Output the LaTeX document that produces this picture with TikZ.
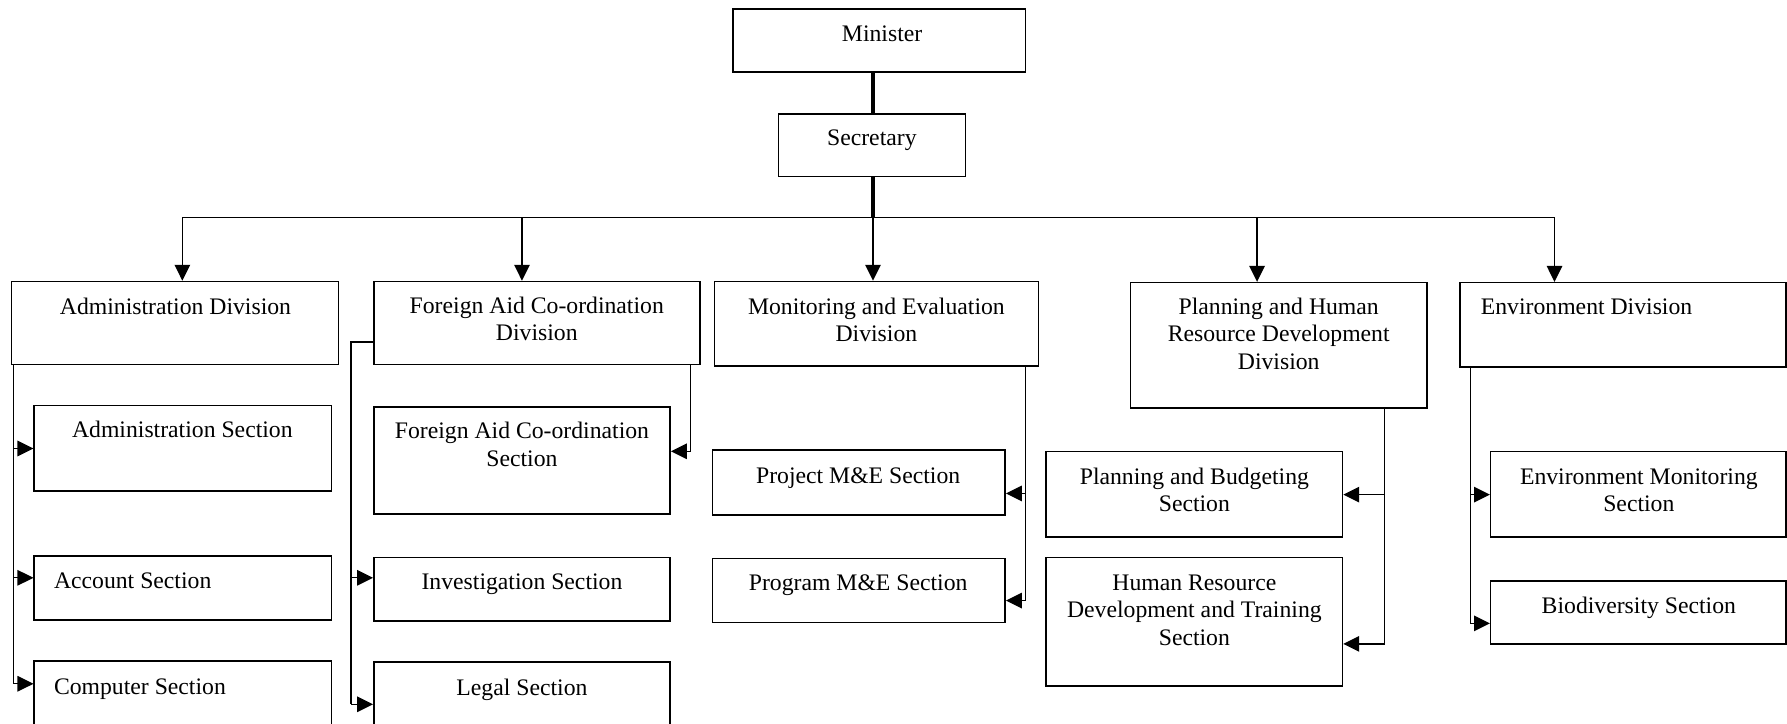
\documentclass[tikz,border=0pt]{standalone}
\usepackage{fontspec}
\setmainfont{Liberation Serif}
\usetikzlibrary{fit,arrows.meta}

\tikzset{
  box/.style={draw, line width=0.65pt, inner sep=0pt, fit={#1}},
  txt/.style={font=\fontsize{10.4}{12}\selectfont, inner sep=0pt, anchor=base, align=center},
  ltxt/.style={font=\fontsize{10.4}{12}\selectfont, inner sep=0pt, anchor=base west, align=left},
  ln/.style={line width=0.6pt},
  heavy/.style={line width=1.6pt},
  arr/.style={line width=0.6pt, -{Triangle[length=7pt,width=6.8pt]}},
}

\begin{document}
\begin{tikzpicture}[x=0.5pt, y=-0.5pt]
\useasboundingbox (0,0) rectangle (1568,635);

% multi-line labels are placed by the baseline of their last line

% ---- top of the hierarchy ----
\node[box={(643,8) (900,63)}]   (min) {};
\node[txt] (min-t) at (774,36.5) {Minister};
\node[box={(683,100) (847,155)}] (sec) {};
\node[txt] (sec-t) at (765,128) {Secretary};

% ---- divisions ----
\node[box={(10,247) (297,320)}]    (adm) {};
\node[txt] (adm-t) at (154,276) {Administration Division};
\node[box={(328,247) (614,320)}]   (fad) {};
\node[txt] (fad-t) at (471,299) {Foreign Aid Co-ordination\\Division};
\node[box={(627,247) (911,321)}]   (med) {};
\node[txt] (med-t) at (769,300) {Monitoring and Evaluation\\Division};
\node[box={(992,248) (1252,358)}]  (phd) {};
\node[txt] (phd-t) at (1122,324) {Planning and Human\\Resource Development\\Division};
\node[box={(1281,248) (1567,322)}] (env) {};
\node[ltxt] (env-t) at (1299,276) {Environment Division};

% ---- sections under Administration ----
\node[box={(30,356) (291,431)}] (ads) {};
\node[txt] (ads-t) at (160,384) {Administration Section};
\node[box={(30,488) (291,544)}] (acc) {};
\node[ltxt] (acc-t) at (47,516) {Account Section};
\node[box={(30,580) (291,640)}] (cmp) {};
\node[ltxt] (cmp-t) at (47,609) {Computer Section};

% ---- sections under Foreign Aid ----
\node[box={(328,357) (588,451)}] (fas) {};
\node[txt] (fas-t) at (458,409) {Foreign Aid Co-ordination\\Section};
\node[box={(328,489) (588,545)}] (inv) {};
\node[txt] (inv-t) at (458,517) {Investigation Section};
\node[box={(328,581) (588,640)}] (leg) {};
\node[txt] (leg-t) at (458,610) {Legal Section};

% ---- sections under Monitoring and Evaluation ----
\node[box={(625,395) (882,452)}] (prj) {};
\node[txt] (prj-t) at (753,424) {Project M\&E Section};
\node[box={(625,490) (882,546)}] (prg) {};
\node[txt] (prg-t) at (753,518) {Program M\&E Section};

% ---- sections under Planning and HRD ----
\node[box={(918,396) (1178,471)}] (pbs) {};
\node[txt] (pbs-t) at (1048,449) {Planning and Budgeting\\Section};
\node[box={(918,489) (1178,602)}] (hrd) {};
\node[txt] (hrd-t) at (1048,566) {Human Resource\\Development and Training\\Section};

% ---- sections under Environment ----
\node[box={(1308,396) (1567,471)}] (ems) {};
\node[txt] (ems-t) at (1438,449) {Environment Monitoring\\Section};
\node[box={(1308,510) (1567,565)}] (bio) {};
\node[txt] (bio-t) at (1438,538) {Biodiversity Section};

% ---- Minister -> Secretary -> bus ----
\coordinate (bus) at (766,191);
\draw[heavy] (sec.north -| bus) -- (min.south -| bus);
\draw[heavy] (sec.south -| bus) -- (bus);

\coordinate (dA) at (160,191);
\coordinate (dF) at (458,191);
\coordinate (dP) at (1103,191);
\coordinate (dE) at (1364,191);
\draw[ln] (dA) -- (dE);
\draw[arr] (dA) -- (dA |- adm.north);
\draw[arr] (dF) -- (dF |- fad.north);
\draw[arr] (bus) -- (bus |- med.north);
\draw[arr] (dP) -- (dP |- phd.north);
\draw[arr] (dE) -- (dE |- env.north);

% ---- Administration branch ----
\coordinate (tA) at (12,600);
\draw[ln] (adm.south -| tA) -- (tA);
\draw[arr] (tA |- ads.west) -- (ads.west);
\draw[arr] (12,507) -- (acc.west |- 12,507);
\draw[arr] (tA) -- (cmp.west |- tA);

% ---- Foreign Aid branches ----
\coordinate (tF) at (308,618);
\draw[ln] (fad.west |- 0,300) -- (tF |- 0,300) -- (tF);
\draw[arr] (308,507) -- (inv.west |- 308,507);
\draw[arr] (tF) -- (leg.west |- tF);
\coordinate (tF2) at (606,396);
\draw[arr] (fad.south -| tF2) -- (tF2) -- (fas.east |- tF2);

% ---- Monitoring branch ----
\coordinate (tM) at (900,527);
\draw[ln] (med.south -| tM) -- (tM);
\draw[arr] (900,433) -- (prj.east |- 900,433);
\draw[arr] (tM) -- (prg.east |- tM);

% ---- Planning branch ----
\coordinate (tP) at (1215,565);
\draw[ln] (phd.south -| tP) -- (tP);
\draw[arr] (1215,434) -- (pbs.east |- 1215,434);
\draw[arr] (tP) -- (hrd.east |- tP);

% ---- Environment branch ----
\coordinate (tE) at (1290,547);
\draw[ln] (env.south -| tE) -- (tE);
\draw[arr] (1290,434) -- (ems.west |- 1290,434);
\draw[arr] (tE) -- (bio.west |- tE);
\end{tikzpicture}
\end{document}
